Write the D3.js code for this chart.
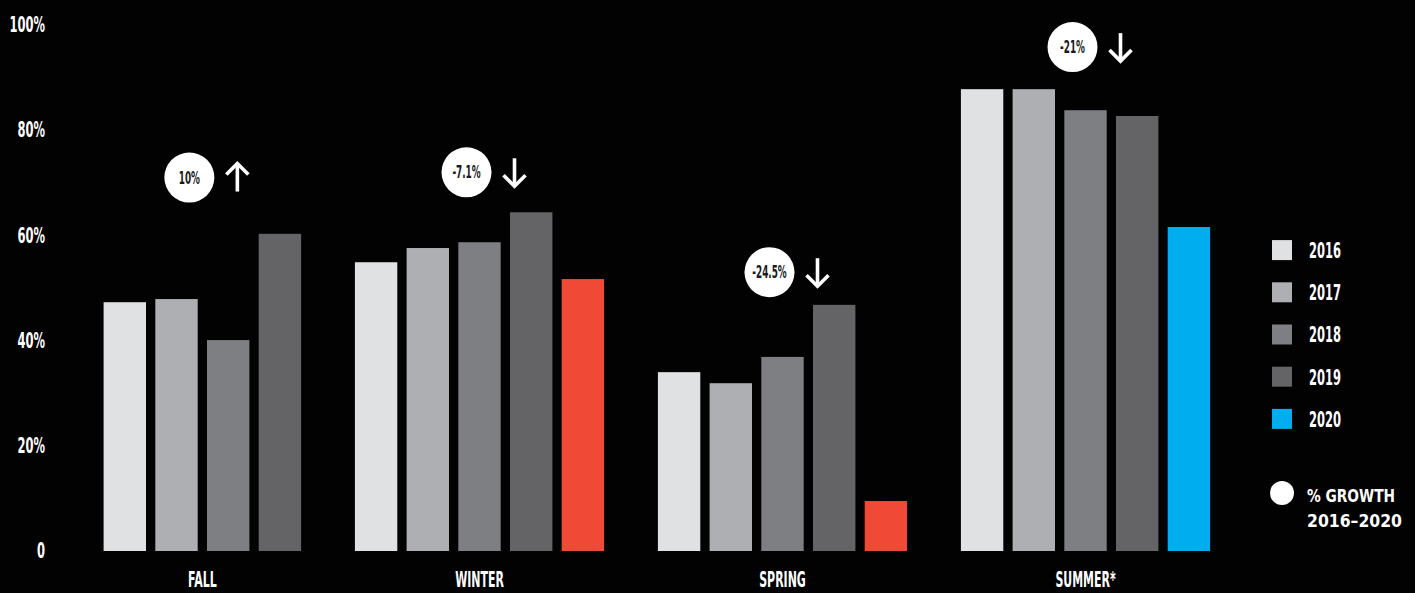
<!DOCTYPE html>
<html>
<head>
<meta charset="utf-8">
<script src="https://cdn.jsdelivr.net/npm/d3@7"></script>
<style>
  html, body { margin: 0; padding: 0; background: #020203; }
  svg { display: block; }
</style>
</head>
<body>
<svg id="chart" width="1415" height="593"></svg>
<script>
// ---------- data ----------
const seasons = ["FALL", "WINTER", "SPRING", "SUMMER*"];
const years = ["2016", "2017", "2018", "2019", "2020"];
const v2016 = [47.3, 54.9, 34.0, 87.8];
const v2017 = [47.9, 57.6, 31.9, 87.8];
const v2018 = [40.1, 58.7, 36.9, 83.8];
const v2019 = [60.3, 64.4, 46.8, 82.7];
const v2020 = [null, 51.7, 9.5, 61.6];
const growthLabels = ["10%", "-7.1%", "-24.5%", "-21%"];
const growthDir = ["up", "down", "down", "down"];
const growthLevel = [71, 72, 53, 95.8]; // annotation height in % units
const yTicks = [0, 20, 40, 60, 80, 100];

const yearColors = ["#e0e1e3", "#aeafb3", "#7e7f83", "#646466", "#00aeef"];
const redColor = "#f04a36";

const series = [v2016, v2017, v2018, v2019, v2020];

// ---------- setup ----------
const svg = d3.select("#chart");
const W = 1415, H = 593;
svg.append("rect").attr("width", W).attr("height", H).attr("fill", "#020203");

const FONT = "'Liberation Sans Narrow', 'DejaVu Sans Condensed', 'Liberation Sans', sans-serif";
const SQ = 0.58; // horizontal squeeze for condensed lettering

const y = d3.scaleLinear().domain([0, 100]).range([551, 25]);
const x = d3.scaleBand().domain(seasons).range([25, 1237]).paddingInner(0);
const step = 51.7;
const slot = d3.scaleBand().domain(d3.range(5))
  .range([-2.5 * step, 2.5 * step]).paddingInner(0.18).paddingOuter(0.09);

// ---------- y axis ----------
const yAxis = d3.axisLeft(y).tickValues(yTicks).tickSize(0).tickPadding(0)
  .tickFormat(d => d === 0 ? "0" : d + "%");
const yg = svg.append("g").attr("transform", "translate(45,0)").call(yAxis);
yg.select(".domain").remove();
yg.selectAll("text")
  .attr("fill", "#ffffff")
  .attr("font-family", FONT)
  .attr("font-weight", "bold")
  .attr("font-size", 22)
  .attr("dy", "0.30em")
  .attr("transform", `scale(${SQ},1)`);

// ---------- bars ----------
seasons.forEach((s, gi) => {
  const present = years.filter((yr, yi) => series[yi][gi] != null);
  const n = present.length;
  const cx = x(s) + x.bandwidth() / 2;
  const g = svg.append("g").attr("transform", `translate(${cx},0)`);
  let minX = Infinity, maxX = -Infinity;
  present.forEach((yr, k) => {
    const yi = years.indexOf(yr);
    const val = series[yi][gi];
    const sx = slot(5 - n + k);
    minX = Math.min(minX, sx); maxX = Math.max(maxX, sx + slot.bandwidth());
    let col = yearColors[yi];
    if (yr === "2020" && s !== "SUMMER*") col = redColor;
    g.append("rect")
      .attr("x", sx)
      .attr("width", slot.bandwidth())
      .attr("y", y(val))
      .attr("height", y(0) - y(val))
      .attr("fill", col);
  });
  const gc = cx + (minX + maxX) / 2; // centre of drawn bars

  // season label
  svg.append("text")
    .attr("transform", `translate(${gc},587) scale(${SQ},1)`)
    .attr("text-anchor", "middle")
    .attr("font-family", FONT).attr("font-weight", "bold").attr("font-size", 21)
    .attr("fill", "#ffffff")
    .text(s);

  // growth badge
  const bx = gc - 13;
  const by = y(growthLevel[gi]);
  svg.append("circle").attr("cx", bx).attr("cy", by).attr("r", 25).attr("fill", "#ffffff");
  svg.append("text")
    .attr("transform", `translate(${bx},${by}) scale(${SQ},1)`)
    .attr("text-anchor", "middle").attr("dy", "0.36em")
    .attr("font-family", FONT).attr("font-weight", "bold").attr("font-size", 17)
    .attr("fill", "#1a1a1a")
    .text(growthLabels[gi]);

  // arrow
  const ax = bx + 48;
  const up = growthDir[gi] === "up";
  const top = by - 14, bot = by + 14;
  const ag = svg.append("g").attr("stroke", "#ffffff").attr("stroke-width", 3.6)
    .attr("fill", "none").attr("stroke-linecap", "butt");
  ag.append("line").attr("x1", ax).attr("x2", ax).attr("y1", top).attr("y2", bot);
  if (up) {
    ag.append("path").attr("d", `M${ax - 11},${top + 11} L${ax},${top} L${ax + 11},${top + 11}`);
  } else {
    ag.append("path").attr("d", `M${ax - 11},${bot - 11} L${ax},${bot} L${ax + 11},${bot - 11}`);
  }
});

// ---------- legend ----------
const leg = d3.scaleBand().domain(years).range([229, 440]).paddingInner(0);
const lg = svg.append("g");
years.forEach((yr, i) => {
  const yy = leg(yr) + leg.bandwidth() / 2;
  lg.append("rect").attr("x", 1272).attr("y", yy - 10).attr("width", 20).attr("height", 20)
    .attr("fill", yearColors[i]);
  lg.append("text")
    .attr("transform", `translate(1309,${yy}) scale(${SQ},1)`)
    .attr("dy", "0.36em")
    .attr("font-family", FONT).attr("font-weight", "bold").attr("font-size", 22)
    .attr("fill", "#ffffff")
    .text(yr);
});
lg.append("circle").attr("cx", 1282).attr("cy", 493).attr("r", 12).attr("fill", "#ffffff");
lg.append("text").attr("x", 1307).attr("y", 502)
  .attr("font-family", "'DejaVu Sans Condensed', 'Liberation Sans', sans-serif")
  .attr("font-weight", "bold").attr("font-size", 18)
  .attr("textLength", 88).attr("lengthAdjust", "spacingAndGlyphs")
  .attr("fill", "#ffffff").text("% GROWTH");
lg.append("text").attr("x", 1307).attr("y", 527)
  .attr("font-family", "'DejaVu Sans Condensed', 'Liberation Sans', sans-serif")
  .attr("font-weight", "bold").attr("font-size", 18)
  .attr("textLength", 95).attr("lengthAdjust", "spacingAndGlyphs")
  .attr("fill", "#ffffff").text("2016–2020");
</script>
</body>
</html>
